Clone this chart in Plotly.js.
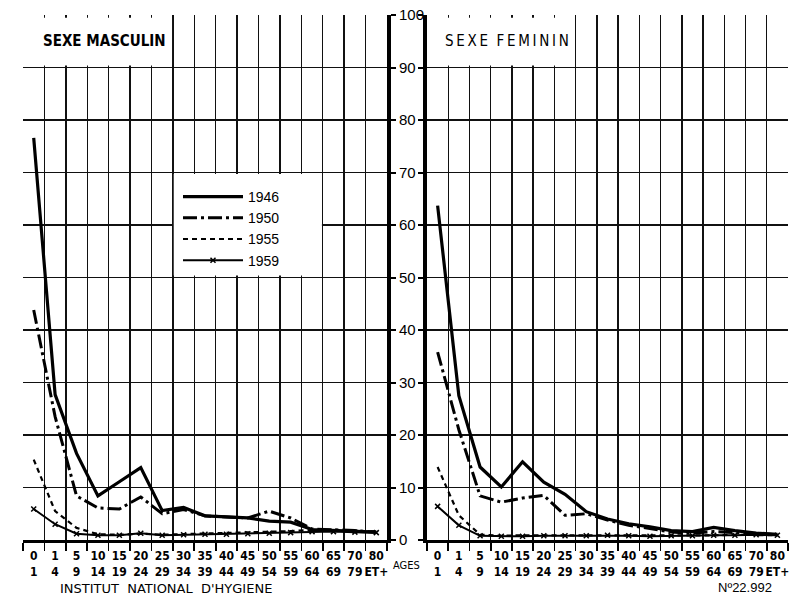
<!DOCTYPE html>
<html>
<head>
<meta charset="utf-8">
<script src="https://cdn.plot.ly/plotly-3.0.1.min.js"></script>
<style>html,body{margin:0;padding:0;background:#fff;}#chart{width:791px;height:600px;}</style>
</head>
<body>
<div id="chart"></div>
<script>
// Age groups (tick labels, two lines each)
const ages = ["0<br>1","1<br>4","5<br>9","10<br>14","15<br>19","20<br>24","25<br>29","30<br>34","35<br>39","40<br>44","45<br>49","50<br>54","55<br>59","60<br>64","65<br>69","70<br>79","80<br>ET+"];
const years = ["1946","1950","1955","1959"];

// SEXE MASCULIN
const male1946 = [76.6, 27.7, 16.5, 8.4, 11.1, 13.8, 5.6, 6.2, 4.6, 4.4, 4.2, 3.6, 3.4, 2.0, 1.8, 1.6, 1.5];
const male1950 = [43.8, 23.5, 8.4, 6.1, 5.9, 8.2, 5.0, 5.8, 4.6, 4.4, 4.2, 5.5, 4.2, 2.1, 2.0, 1.8, 1.5];
const male1955 = [15.3, 5.5, 2.3, 1.1, 1.0, 1.2, 1.0, 1.1, 1.2, 1.3, 1.4, 1.5, 1.7, 1.9, 1.8, 1.7, 1.6];
const male1959 = [5.9, 3.0, 1.2, 0.9, 0.9, 1.3, 0.9, 1.0, 1.1, 1.1, 1.2, 1.3, 1.4, 1.6, 1.6, 1.5, 1.4];

// SEXE FEMININ
const female1946 = [63.7, 27.5, 13.9, 10.1, 14.9, 11.0, 8.7, 5.4, 4.0, 3.1, 2.5, 1.8, 1.6, 2.4, 1.8, 1.3, 1.1];
const female1950 = [35.8, 21.0, 8.4, 7.2, 8.0, 8.5, 4.7, 5.0, 3.8, 2.8, 2.2, 1.5, 1.3, 1.6, 1.4, 1.2, 1.0];
const female1955 = [13.9, 4.7, 1.0, 0.8, 0.9, 0.9, 0.9, 0.9, 0.9, 0.9, 0.8, 0.8, 0.8, 0.9, 1.0, 1.0, 0.9];
const female1959 = [6.4, 2.8, 0.8, 0.7, 0.7, 0.8, 0.8, 0.8, 0.9, 0.8, 0.7, 0.8, 0.8, 0.9, 0.9, 1.0, 0.9];

const yTicks = [0,10,20,30,40,50,60,70,80,90,100];

const idx = ages.map((a, i) => i);
const bounds = idx.concat([ages.length]).map(i => i - 0.5);

const styles = [
  {color:'#000', width:3.2, dash:'solid'},
  {color:'#000', width:3, dash:'14px,4px,3px,4px'},
  {color:'#000', width:2.2, dash:'5px,4px'},
  {color:'#000', width:2, dash:'solid'}
];
const maleSeries = [male1946, male1950, male1955, male1959];
const femaleSeries = [female1946, female1950, female1955, female1959];

const traces = [];
maleSeries.forEach((s, k) => {
  const t = {x: idx, y: s, name: years[k], xaxis:'x', yaxis:'y', type:'scatter',
    mode: k === 3 ? 'lines+markers' : 'lines', line: styles[k], legendgroup: years[k], showlegend: true};
  if (k === 3) t.marker = {symbol:'x-thin', size:5, line:{width:1.5, color:'#000'}, color:'#000'};
  traces.push(t);
});
femaleSeries.forEach((s, k) => {
  const t = {x: idx, y: s, name: years[k], xaxis:'x2', yaxis:'y2', type:'scatter',
    mode: k === 3 ? 'lines+markers' : 'lines', line: styles[k], legendgroup: years[k], showlegend: false};
  if (k === 3) t.marker = {symbol:'x-thin', size:5, line:{width:1.5, color:'#000'}, color:'#000'};
  traces.push(t);
});

const W = 791, H = 600, mL = 23, mR = 3, mT = 15, mB = 60;
const pw = W - mL - mR, ph = H - mT - mB;
const px = v => (v - mL) / pw;
const py = v => (H - mB - v) / ph;

const tickFont = {family:'"DejaVu Sans Condensed", "Liberation Sans Narrow", sans-serif', size:12, color:'#000', weight:'bold'};

function xAxis(domain, anchor) {
  return {
    domain: domain, anchor: anchor, range:[-0.5, ages.length - 0.5],
    tickmode:'array', tickvals: idx, ticktext: ages, tickangle:0, ticks:'outside', ticklen:3, tickcolor:'rgba(0,0,0,0)',
    tickfont: tickFont, showgrid:false, zeroline:false,
    showline:true, linewidth:3, linecolor:'#000',
    minor:{tickmode:'array', tickvals: bounds, showgrid:true, gridcolor:'#111', gridwidth:1.4,
           ticks:'outside', ticklen:8, tickwidth:1.6, tickcolor:'#000'},
    fixedrange:true
  };
}
function yAxis(anchor, side, labels) {
  return {
    domain:[0,1], anchor: anchor, side: side, range:[0,100],
    tickmode:'array', tickvals: yTicks, ticktext: yTicks.map(String),
    showticklabels: labels, ticks:'outside', ticklen:5, tickwidth:2, tickcolor:'#000',
    tickfont:{family:'"Liberation Sans", Arial, sans-serif', size:15, color:'#000'},
    showgrid:true, gridcolor:'#111', gridwidth:1.6, zeroline:false,
    showline:true, linewidth:4, linecolor:'#000', fixedrange:true
  };
}

const ts = '\u2009';
const femTitle = 'SEXE'.split('').join(ts) + '  ' + 'FEMININ'.split('').join(ts);

const layout = {
  width: W, height: H,
  margin:{l:mL, r:mR, t:mT, b:mB, pad:0},
  paper_bgcolor:'#fff', plot_bgcolor:'#fff',
  showlegend:true,
  legend:{x: px(178), y: py(181), xanchor:'left', yanchor:'top', bgcolor:'rgba(0,0,0,0)',
          font:{family:'"Liberation Sans", Arial, sans-serif', size:14, color:'#000'},
          tracegroupgap:0, itemwidth:60},
  xaxis: xAxis([0, px(387)], 'y'),
  yaxis: yAxis('x', 'right', true),
  xaxis2: xAxis([px(427), 1], 'y2'),
  yaxis2: yAxis('x2', 'left', false),
  shapes:[
    {type:'rect', xref:'x', yref:'y', x0:-0.46, x1:6.46, y0:90.4, y1:99.5, fillcolor:'#fff', line:{width:0}, layer:'above'},
    {type:'rect', xref:'x2', yref:'y2', x0:-0.4, x1:6.46, y0:90.4, y1:99.5, fillcolor:'#fff', line:{width:0}, layer:'above'},
    {type:'rect', xref:'x', yref:'y', x0:6.54, x1:13.46, y0:50.4, y1:69.7, fillcolor:'#fff', line:{width:0}, layer:'above'}
  ],
  annotations:[
    {text:'SEXE MASCULIN', xref:'paper', yref:'y', x: px(104), y: 95, xanchor:'center', yanchor:'middle', showarrow:false,
     font:{family:'"DejaVu Sans Condensed", sans-serif', size:15, color:'#000', weight:'bold'}},
    {text: femTitle, xref:'paper', yref:'y', x: px(507), y: 95, xanchor:'center', yanchor:'middle', showarrow:false,
     font:{family:'"DejaVu Sans Condensed", sans-serif', size:15, color:'#000'}},
    {text:'AGES', xref:'paper', yref:'paper', x: px(406), y: py(565), xanchor:'center', yanchor:'middle', showarrow:false,
     font:{family:'"DejaVu Sans Condensed", sans-serif', size:11, color:'#000'}},
    {text:"INSTITUT  NATIONAL  D'HYGIENE", xref:'paper', yref:'paper', x: px(166), y: py(588), xanchor:'center', yanchor:'middle', showarrow:false,
     font:{family:'"DejaVu Sans", sans-serif', size:13, color:'#000'}},
    {text:'Nº22.992', xref:'paper', yref:'paper', x: px(745), y: py(587), xanchor:'center', yanchor:'middle', showarrow:false,
     font:{family:'"Liberation Sans", Arial, sans-serif', size:13, color:'#000'}}
  ]
};

Plotly.newPlot('chart', traces, layout, {staticPlot:true, displayModeBar:false});
</script>
</body>
</html>
